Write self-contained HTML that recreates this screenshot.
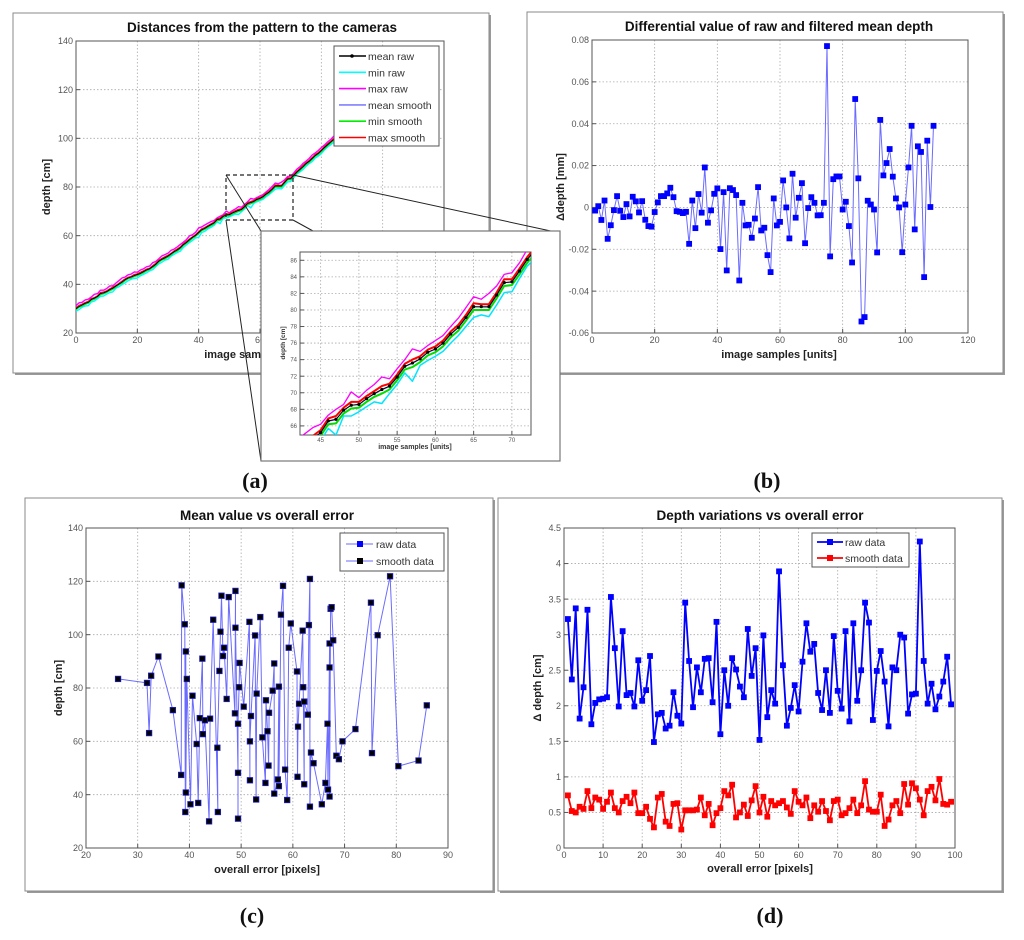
<!DOCTYPE html>
<html><head><meta charset="utf-8">
<style>
html,body{margin:0;padding:0;background:#fff;}
svg{display:block;font-family:"Liberation Sans",sans-serif;}
</style></head>
<body>
<svg id="chart" width="1024" height="940" viewBox="0 0 1024 940" xmlns="http://www.w3.org/2000/svg">
<defs>
<clipPath id="clipA"><rect x="76" y="41" width="368" height="292"/></clipPath>
<clipPath id="clipI"><rect x="300" y="252" width="231" height="183"/></clipPath>
</defs>
</svg>
<script>
// ---------- Panel (a) data ----------
const aMeanRaw = [30.0,30.9,31.5,32.2,32.6,33.8,34.3,35.0,36.2,36.5,37.0,37.8,38.4,39.3,40.1,40.9,41.9,42.6,43.0,43.6,44.0,
44.5,45.2,45.9,46.4,47.3,48.2,49.5,50.3,50.9,51.6,52.5,53.4,54.1,55.0,56.3,57.2,58.3,59.3,60.1,61.3,62.4,63.0,63.8,64.5,
65.2,66.6,66.8,67.9,68.5,68.6,69.3,69.9,70.4,70.8,71.9,73.2,73.6,74.1,74.9,75.3,76.0,77.1,77.9,79.1,80.4,80.4,80.4,81.8,83.3,83.4,84.7,86.1,
87.2,88.3,89.6,90.5,91.7,92.9,93.8,94.9,96.2,97.3,98.4,99.5,100.6,101.5,102.7,103.8,104.9,106.0,107.1,108.3,109.2,110.4,111.5,112.6,113.7,114.8,115.9,117.0,118.1,119.2,120.3,121.4,122.5,123.6,124.7,125.8,126.9];
const aRawMaxOff = [1.2,1.5,1.1,1.4,1.3,1.0,1.6,1.2,1.4,1.1,1.3,1.5,1.0,1.2,1.4,1.7,1.1,1.3,1.2,1.5,1.0,1.4,1.2,1.3,1.1,1.6,1.2,1.0,1.4,1.3,1.2,1.5,1.1,1.3,1.4,1.0,1.2,1.6,1.1,1.3,1.9,1.2,1.4,1.3,1.3,
1.0,0.7,1.2,0.7,1.6,0.8,1.0,1.1,1.5,0.9,1.0,0.8,1.7,0.9,0.8,1.0,0.9,0.9,1.1,1.2,1.2,0.9,1.6,1.1,1.0,1.1,1.0,1.2,
1.1,1.3,1.0,1.2,1.4,1.1,1.2,1.3,1.0,1.2,1.1,1.3,1.2,1.0,1.4,1.1,1.2,1.3,1.1,1.2,1.0,1.3,1.2,1.1,1.4,1.2,1.0,1.3,1.1,1.2,1.2,1.1,1.3,1.0,1.2,1.1,1.2];
const aRawMinOff = [1.0,1.3,0.9,1.1,1.4,1.0,1.2,0.9,1.1,1.3,1.0,1.2,1.5,0.9,1.1,1.0,1.3,1.1,0.9,1.2,1.4,1.0,1.1,1.2,0.9,1.3,1.0,1.1,1.2,1.0,1.3,0.9,1.1,1.0,1.4,1.2,1.0,1.1,1.3,1.0,2.0,1.1,1.2,1.0,1.1,
1.0,0.9,1.9,0.7,1.3,0.9,1.0,1.0,1.7,0.9,0.9,0.8,2.2,0.8,1.0,0.9,1.0,1.1,1.0,1.1,1.3,1.0,1.2,1.2,1.2,1.2,0.9,0.8,
1.0,1.2,1.1,0.9,1.3,1.0,1.1,1.2,1.0,0.9,1.1,1.2,1.0,1.1,1.3,1.0,0.9,1.1,1.2,1.0,1.1,1.0,1.2,0.9,1.1,1.3,1.0,1.1,1.2,1.0,1.1,0.9,1.0,1.2,1.1,1.0,1.1];
const aSmoothMaxOff = [0.3,0.4,0.3,0.3,0.4,0.3,0.2,0.3,0.4,0.3,0.3,0.3,0.4,0.2,0.3,0.4,0.3,0.3,0.2,0.4,0.3,0.4,0.3,0.3,0.2,0.3,0.4,0.3,0.3,0.4,
0.3,0.2,0.3,0.4,0.3,0.3,0.4,0.3,0.2,0.3,0.3,0.4,0.3,0.3,0.3,0.3,0.3,0.4,0.3,0.4,0.3,0.3,0.3,0.4,0.3,0.3,0.3,0.4,0.3,0.3,
0.3,0.3,0.3,0.3,0.3,0.4,0.3,0.3,0.3,0.4,0.3,0.3,0.3,0.3,0.4,0.3,0.3,0.3,0.4,0.3,0.3,0.3,0.4,0.3,0.3,0.3,0.3,0.4,0.3,0.3,
0.3,0.4,0.3,0.3,0.3,0.4,0.3,0.3,0.3,0.3,0.4,0.3,0.3,0.3,0.4,0.3,0.3,0.3,0.3,0.3];
const aSmoothMinOff = [0.4,0.3,0.4,0.4,0.3,0.4,0.4,0.3,0.4,0.4,0.3,0.4,0.4,0.4,0.3,0.4,0.4,0.3,0.4,0.4,0.4,0.3,0.4,0.4,0.3,0.4,0.4,0.4,0.3,0.4,
0.4,0.4,0.3,0.4,0.4,0.4,0.3,0.4,0.4,0.4,0.4,0.3,0.4,0.4,0.4,0.4,0.4,0.5,0.4,0.4,0.4,0.4,0.4,0.5,0.4,0.4,0.4,0.5,0.4,0.4,
0.4,0.4,0.4,0.4,0.4,0.4,0.4,0.4,0.4,0.4,0.4,0.4,0.4,0.4,0.3,0.4,0.4,0.4,0.3,0.4,0.4,0.4,0.3,0.4,0.4,0.4,0.4,0.3,0.4,0.4,
0.4,0.3,0.4,0.4,0.4,0.3,0.4,0.4,0.4,0.4,0.3,0.4,0.4,0.4,0.3,0.4,0.4,0.4,0.4,0.4];
const aXTicks = [0,20,40,60,80,100,120];
const aYTicks = [20,40,60,80,100,120,140];
const insetXTicks = [45,50,55,60,65,70];
const insetYTicks = [66,68,70,72,74,76,78,80,82,84,86];

// ---------- Panel (b) data ----------
const bDiff = [-0.0015,0.0006,-0.006,0.0033,-0.015,-0.0085,-0.0013,0.0054,-0.0016,-0.0046,
0.0016,-0.0043,0.0051,0.0029,-0.0024,0.003,-0.0059,-0.0089,-0.0092,-0.0022,
0.0024,0.0054,0.0054,0.0067,0.0094,0.0049,-0.0018,-0.0021,-0.0027,-0.0021,
-0.0174,0.0033,-0.0099,0.0064,-0.0025,0.0191,-0.0073,-0.0014,0.0065,0.0091,
-0.0199,0.0073,-0.0301,0.0092,0.0083,0.0059,-0.0349,0.0022,-0.0086,-0.0083,
-0.0145,-0.0053,0.0097,-0.011,-0.0097,-0.0228,-0.0309,0.0043,-0.0086,-0.0069,
0.0129,0.0,-0.0148,0.0161,-0.0049,0.0046,0.0116,-0.0171,-0.0003,0.0049,
0.0022,-0.0038,-0.0037,0.0022,0.0771,-0.0234,0.0135,0.0148,0.0148,-0.001,
0.0027,-0.0089,-0.0263,0.0518,0.0139,-0.0545,-0.0524,0.0032,0.0014,-0.001,
-0.0215,0.0418,0.0153,0.0212,0.0279,0.0147,0.0043,0.0,-0.0214,0.0014,
0.0191,0.039,-0.0105,0.0292,0.0265,-0.0333,0.0319,0.0002,0.039];
const bXTicks = [0,20,40,60,80,100,120];
const bYTicks = [-0.06,-0.04,-0.02,0,0.02,0.04,0.06,0.08];
const bYLabels = ["-0.06","-0.04","-0.02","0","0.02","0.04","0.06","0.08"];

// ---------- Panel (c) data ----------
const cError = [26.2,31.8,32.2,32.6,34.0,36.8,38.4,38.5,39.1,39.2,39.3,39.3,39.5,40.2,40.6,41.4,41.7,42.0,42.5,42.6,
43.0,43.8,44.0,44.6,45.5,45.4,45.8,46.0,46.2,46.5,46.7,47.2,47.6,48.8,48.9,48.9,49.4,49.4,49.4,49.6,
49.7,50.5,51.6,51.7,51.7,51.9,52.7,52.9,53.0,53.7,54.1,54.7,54.8,55.1,55.3,55.4,56.1,56.4,56.4,57.1,
57.3,57.3,57.7,58.1,58.5,58.9,59.2,59.6,60.8,60.9,61.0,61.2,61.9,62.0,62.2,62.2,62.9,63.1,63.3,63.3,
63.5,64.0,65.6,66.3,66.7,66.8,67.1,67.1,67.1,67.3,67.5,67.8,68.4,68.9,69.6,72.1,75.1,75.3,76.4,78.8,
80.4,84.3,85.9];
const cDepth = [83.4,81.9,63.1,84.6,91.8,71.7,47.4,118.5,103.9,33.5,93.7,40.8,83.4,36.4,77.1,59.0,36.9,68.7,91.0,62.7,
67.9,30.0,68.5,105.6,33.5,57.6,86.4,101.1,114.6,92.0,95.1,75.9,114.1,70.5,116.4,102.6,48.2,31.0,66.6,80.3,
89.4,73.0,104.8,45.4,60.0,69.5,99.7,38.2,77.9,106.6,61.5,44.4,75.4,63.8,50.9,70.7,79.0,89.2,40.4,45.7,
80.5,43.2,107.5,118.3,49.4,38.0,95.1,104.2,86.2,46.7,65.5,74.1,101.5,80.3,43.9,74.9,70.0,103.6,120.9,35.5,
55.8,51.8,36.4,44.4,66.6,41.9,96.7,87.7,39.3,109.7,110.3,97.9,54.6,53.3,60.0,64.6,112.0,55.6,99.8,121.9,
50.7,52.8,73.5];
const cXTicks = [20,30,40,50,60,70,80,90];
const cYTicks = [20,40,60,80,100,120,140];

// ---------- Panel (d) data ----------
const dRaw = [3.22,2.37,3.37,1.82,2.26,3.35,1.74,2.04,2.09,2.1,2.12,3.53,2.81,1.99,3.05,2.15,2.18,1.99,2.64,2.07,
2.22,2.7,1.49,1.88,1.9,1.68,1.72,2.19,1.86,1.75,3.45,2.63,1.98,2.54,2.19,2.66,2.67,2.05,3.18,1.6,
2.5,2.0,2.67,2.51,2.27,2.12,3.08,2.42,2.81,1.52,2.99,1.84,2.22,2.03,3.89,2.57,1.72,1.97,2.29,1.92,
2.62,3.16,2.76,2.87,2.18,1.94,2.5,1.9,2.98,2.21,1.96,3.05,1.78,3.16,2.07,2.5,3.45,3.17,1.8,2.49,
2.77,2.34,1.71,2.54,2.5,3.0,2.96,1.89,2.16,2.17,4.31,2.63,2.03,2.31,1.95,2.13,2.34,2.69,2.02];
const dSmooth = [0.74,0.52,0.5,0.58,0.55,0.8,0.56,0.71,0.68,0.55,0.65,0.78,0.56,0.5,0.66,0.72,0.63,0.78,0.49,0.49,
0.58,0.41,0.29,0.71,0.76,0.37,0.31,0.62,0.63,0.26,0.53,0.53,0.53,0.54,0.71,0.46,0.62,0.32,0.49,0.56,
0.8,0.74,0.89,0.43,0.5,0.61,0.45,0.67,0.87,0.5,0.72,0.44,0.66,0.6,0.63,0.66,0.57,0.48,0.8,0.65,
0.6,0.71,0.42,0.6,0.51,0.66,0.52,0.39,0.66,0.68,0.46,0.49,0.56,0.68,0.49,0.6,0.94,0.54,0.51,0.51,
0.75,0.31,0.4,0.6,0.66,0.49,0.9,0.61,0.91,0.84,0.68,0.46,0.8,0.86,0.67,0.97,0.62,0.61,0.65];
const dXTicks = [0,10,20,30,40,50,60,70,80,90,100];
const dYTicks = [0,0.5,1,1.5,2,2.5,3,3.5,4,4.5];
const dYLabels = ["0","0.5","1","1.5","2","2.5","3","3.5","4","4.5"];

// ---------- helpers ----------
const NS = 'http://www.w3.org/2000/svg';
const svg = document.getElementById('chart');
function mk(tag, attrs, parent, name) {
  const e = document.createElementNS(NS, tag);
  for (const k in attrs) e.setAttribute(k, attrs[k]);
  
  
  (parent || svg).appendChild(e);
  return e;
}
function txt(s, attrs, parent, name) { const t = mk('text', attrs, parent, name); t.textContent = s; return t; }
function scale(d0, d1, p0, p1) { return v => p0 + (v - d0) / (d1 - d0) * (p1 - p0); }

function frame(x, y, w, h, name) {
  mk('rect', {x: x + 2, y: y + 2, width: w, height: h, fill: '#9a9a9a'}, svg, name + '-shadow');
  mk('rect', {x: x, y: y, width: w, height: h, fill: '#fff', stroke: '#8a8a8a', 'stroke-width': 1}, svg, name);
}

function axes(g, P, sx, sy, xt, yt, xl, yl, fs, grid) {
  const gg = mk('g', {}, g, 'gridlines');
  xt.forEach(v => { const x = sx(v);
    mk('line', {x1: x, x2: x, y1: P.y0, y2: P.y1, stroke: '#aaa', 'stroke-width': 0.8, 'stroke-dasharray': '1.5,2'}, gg, 'x-gridline'); });
  yt.forEach(v => { const y = sy(v);
    mk('line', {x1: P.x0, x2: P.x1, y1: y, y2: y, stroke: '#aaa', 'stroke-width': 0.8, 'stroke-dasharray': '1.5,2'}, gg, 'y-gridline'); });
  mk('rect', {x: P.x0, y: P.y0, width: P.x1 - P.x0, height: P.y1 - P.y0, fill: 'none', stroke: '#555', 'stroke-width': 1}, g, 'plot-area-border');
  const xa = mk('g', {}, g, 'x-axis');
  xt.forEach((v, i) => { const x = sx(v);
    mk('line', {x1: x, x2: x, y1: P.y1, y2: P.y1 - 4, stroke: '#555'}, xa, 'x-tick');
    txt(xl ? xl[i] : String(v), {x: x, y: P.y1 + fs + 1, 'font-size': fs, 'text-anchor': 'middle', fill: '#555'}, xa, 'x-tick-label'); });
  const ya = mk('g', {}, g, 'y-axis');
  yt.forEach((v, i) => { const y = sy(v);
    mk('line', {x1: P.x0, x2: P.x0 + 4, y1: y, y2: y, stroke: '#555'}, ya, 'y-tick');
    txt(yl ? yl[i] : String(v), {x: P.x0 - 3, y: y + fs * 0.35, 'font-size': fs, 'text-anchor': 'end', fill: '#555'}, ya, 'y-tick-label'); });
}
function poly(g, xs, ys, sx, sy, color, w, name, clip) {
  const pts = xs.map((x, i) => sx(x).toFixed(1) + ',' + sy(ys[i]).toFixed(1)).join(' ');
  const a = {points: pts, fill: 'none', stroke: color, 'stroke-width': w, 'stroke-linejoin': 'round'};
  if (clip) a['clip-path'] = clip;
  return mk('polyline', a, g, name);
}
function squares(g, xs, ys, sx, sy, fill, stroke, size, name) {
  xs.forEach((x, i) => {
    mk('rect', {x: sx(x) - size / 2, y: sy(ys[i]) - size / 2, width: size, height: size, fill: fill, stroke: stroke, 'stroke-width': 0.8}, g, name);
  });
}

// ---------- Frames ----------
frame(13, 13, 476, 360, 'panel-a-frame');
frame(527, 12, 476, 361, 'panel-b-frame');
frame(25, 498, 468, 393, 'panel-c-frame');
frame(498, 498, 504, 393, 'panel-d-frame');

// ---------- Panel (b) ----------
(function () {
  const g = mk('g', {}, svg, 'panel-b');
  const P = {x0: 592, x1: 968, y0: 40, y1: 333};
  const sx = scale(0, 120, P.x0, P.x1), sy = scale(-0.06, 0.08, P.y1, P.y0);
  axes(g, P, sx, sy, bXTicks, bYTicks, null, bYLabels, 9);
  const xs = bDiff.map((v, i) => i + 1);
  poly(g, xs, bDiff, sx, sy, '#6b6bff', 1, 'diff-line');
  squares(g, xs, bDiff, sx, sy, '#0000ff', '#0000ff', 5, 'diff-point');
  txt('Differential value of raw and filtered mean depth', {x: 779, y: 31, 'font-size': 13.5, 'font-weight': 'bold', 'text-anchor': 'middle', fill: '#111'}, g, 'chart-title');
  txt('image samples [units]', {x: 779, y: 358, 'font-size': 11, 'font-weight': 'bold', 'text-anchor': 'middle', fill: '#222'}, g, 'x-axis-title');
  txt('\u0394depth [mm]', {x: 0, y: 0, transform: 'translate(564,187) rotate(-90)', 'font-size': 11, 'font-weight': 'bold', 'text-anchor': 'middle', fill: '#222'}, g, 'y-axis-title');
})();

// ---------- Panel (a) ----------
(function () {
  const g = mk('g', {}, svg, 'panel-a');
  const P = {x0: 76, x1: 444, y0: 41, y1: 333};
  const sx = scale(0, 120, P.x0, P.x1), sy = scale(20, 140, P.y1, P.y0);
  axes(g, P, sx, sy, aXTicks, aYTicks, null, null, 9);
  const xs = aMeanRaw.map((v, i) => i);
  const minRaw = aMeanRaw.map((v, i) => v - aRawMinOff[i]);
  const maxRaw = aMeanRaw.map((v, i) => v + aRawMaxOff[i]);
  const minSm = aMeanRaw.map((v, i) => v - aSmoothMinOff[i]);
  const maxSm = aMeanRaw.map((v, i) => v + aSmoothMaxOff[i]);
  const meanSm = minSm.map((v, i) => (v + maxSm[i]) / 2);
  poly(g, xs, minRaw, sx, sy, '#00ffff', 1.4, 'min-raw-line', 'url(#clipA)');
  poly(g, xs, maxRaw, sx, sy, '#ff00ff', 1.4, 'max-raw-line', 'url(#clipA)');
  poly(g, xs, minSm, sx, sy, '#00ee00', 1.4, 'min-smooth-line', 'url(#clipA)');
  poly(g, xs, maxSm, sx, sy, '#ff0000', 1.4, 'max-smooth-line', 'url(#clipA)');
  poly(g, xs, meanSm, sx, sy, '#8080ff', 1, 'mean-smooth-line', 'url(#clipA)');
  poly(g, xs, aMeanRaw, sx, sy, '#000', 0.9, 'mean-raw-line', 'url(#clipA)');
  // legend
  const lg = mk('g', {}, g, 'legend');
  mk('rect', {x: 334, y: 46, width: 105, height: 100, fill: '#fff', stroke: '#555'}, lg, 'legend-box');
  const names = ['mean raw', 'min raw', 'max raw', 'mean smooth', 'min smooth', 'max smooth'];
  const cols = ['#000', '#00ffff', '#ff00ff', '#8080ff', '#00ee00', '#ff0000'];
  names.forEach((n, i) => {
    const y = 56 + i * 16.3;
    mk('line', {x1: 339, x2: 366, y1: y, y2: y, stroke: cols[i], 'stroke-width': 1.6}, lg, 'legend-swatch');
    if (i === 0) mk('circle', {cx: 352, cy: y, r: 1.8, fill: '#000'}, lg, 'legend-marker');
    txt(n, {x: 368, y: y + 4, 'font-size': 10.5, fill: '#333'}, lg, 'legend-entry');
  });
  txt('Distances from the pattern to the cameras', {x: 262, y: 32, 'font-size': 13.5, 'font-weight': 'bold', 'text-anchor': 'middle', fill: '#111'}, g, 'chart-title');
  txt('image samples [units]', {x: 262, y: 358, 'font-size': 11, 'font-weight': 'bold', 'text-anchor': 'middle', fill: '#222'}, g, 'x-axis-title');
  txt('depth [cm]', {x: 0, y: 0, transform: 'translate(50,187) rotate(-90)', 'font-size': 11, 'font-weight': 'bold', 'text-anchor': 'middle', fill: '#222'}, g, 'y-axis-title');
  // zoom rectangle
  mk('rect', {x: 226, y: 175, width: 67, height: 45, fill: 'none', stroke: '#222', 'stroke-width': 1.2, 'stroke-dasharray': '4,3'}, g, 'zoom-region');
  mk('line', {x1: 226, y1: 175, x2: 261, y2: 231, stroke: '#222', 'stroke-width': 1}, g, 'zoom-connector');
  mk('line', {x1: 226, y1: 220, x2: 261, y2: 461, stroke: '#222', 'stroke-width': 1}, g, 'zoom-connector');
  mk('line', {x1: 293, y1: 175, x2: 560, y2: 233, stroke: '#222', 'stroke-width': 1}, g, 'zoom-connector');
  mk('line', {x1: 293, y1: 220, x2: 313, y2: 231, stroke: '#222', 'stroke-width': 1}, g, 'zoom-connector');
  // inset
  const ig = mk('g', {}, svg, 'zoom-inset');
  mk('rect', {x: 261, y: 231, width: 299, height: 230, fill: '#fff', stroke: '#777', 'stroke-width': 1.2}, ig, 'inset-frame');
  const Q = {x0: 300, x1: 531, y0: 252, y1: 435};
  const ix = scale(42.3, 72.5, Q.x0, Q.x1), iy = scale(64.9, 87, Q.y1, Q.y0);
  axes(ig, Q, ix, iy, insetXTicks, insetYTicks, null, null, 6);
  poly(ig, xs, minRaw, ix, iy, '#00e5ff', 1.5, 'inset-min-raw', 'url(#clipI)');
  poly(ig, xs, maxRaw, ix, iy, '#ff00ff', 1.3, 'inset-max-raw', 'url(#clipI)');
  poly(ig, xs, minSm, ix, iy, '#00dd00', 2, 'inset-min-smooth', 'url(#clipI)');
  poly(ig, xs, maxSm, ix, iy, '#ff0000', 2, 'inset-max-smooth', 'url(#clipI)');
  poly(ig, xs, meanSm, ix, iy, '#6060ff', 1, 'inset-mean-smooth', 'url(#clipI)');
  poly(ig, xs, aMeanRaw, ix, iy, '#000', 1, 'inset-mean-raw', 'url(#clipI)');
  const mg = mk('g', {'clip-path': 'url(#clipI)'}, ig, 'inset-markers');
  xs.forEach((x, i) => {
    mk('circle', {cx: ix(x), cy: iy(aMeanRaw[i]), r: 1.6, fill: '#000'}, mg, 'inset-mean-marker');
  });
  txt('image samples [units]', {x: 415, y: 449, 'font-size': 7, 'font-weight': 'bold', 'text-anchor': 'middle', fill: '#333'}, ig, 'inset-x-axis-title');
  txt('depth [cm]', {x: 0, y: 0, transform: 'translate(285,343) rotate(-90)', 'font-size': 6.5, 'font-weight': 'bold', 'text-anchor': 'middle', fill: '#333'}, ig, 'inset-y-axis-title');
})();

// ---------- Panel (c) ----------
(function () {
  const g = mk('g', {}, svg, 'panel-c');
  const P = {x0: 86, x1: 448, y0: 528, y1: 848};
  const sx = scale(20, 90, P.x0, P.x1), sy = scale(20, 140, P.y1, P.y0);
  axes(g, P, sx, sy, cXTicks, cYTicks, null, null, 9);
  poly(g, cError, cDepth, sx, sy, '#6b6bff', 1, 'smooth-data-line');
  squares(g, cError, cDepth, sx, sy, '#000', '#2020c0', 5.5, 'smooth-data-point');
  const lg = mk('g', {}, g, 'legend');
  mk('rect', {x: 340, y: 533, width: 104, height: 38, fill: '#fff', stroke: '#555'}, lg, 'legend-box');
  mk('line', {x1: 346, x2: 373, y1: 544, y2: 544, stroke: '#6b6bff'}, lg, 'legend-swatch');
  mk('rect', {x: 357, y: 541, width: 6, height: 6, fill: '#0000ff'}, lg, 'legend-marker');
  txt('raw data', {x: 376, y: 548, 'font-size': 10.5, fill: '#333'}, lg, 'legend-entry');
  mk('line', {x1: 346, x2: 373, y1: 561, y2: 561, stroke: '#6b6bff'}, lg, 'legend-swatch');
  mk('rect', {x: 357, y: 558, width: 6, height: 6, fill: '#000'}, lg, 'legend-marker');
  txt('smooth data', {x: 376, y: 565, 'font-size': 10.5, fill: '#333'}, lg, 'legend-entry');
  txt('Mean value vs overall error', {x: 267, y: 520, 'font-size': 13.5, 'font-weight': 'bold', 'text-anchor': 'middle', fill: '#111'}, g, 'chart-title');
  txt('overall error [pixels]', {x: 267, y: 873, 'font-size': 11, 'font-weight': 'bold', 'text-anchor': 'middle', fill: '#222'}, g, 'x-axis-title');
  txt('depth [cm]', {x: 0, y: 0, transform: 'translate(62,688) rotate(-90)', 'font-size': 11, 'font-weight': 'bold', 'text-anchor': 'middle', fill: '#222'}, g, 'y-axis-title');
})();

// ---------- Panel (d) ----------
(function () {
  const g = mk('g', {}, svg, 'panel-d');
  const P = {x0: 564, x1: 955, y0: 528, y1: 848};
  const sx = scale(0, 100, P.x0, P.x1), sy = scale(0, 4.5, P.y1, P.y0);
  axes(g, P, sx, sy, dXTicks, dYTicks, null, dYLabels, 9);
  const xs = dRaw.map((v, i) => i + 1);
  poly(g, xs, dRaw, sx, sy, '#0000ff', 1.8, 'raw-data-line');
  squares(g, xs, dRaw, sx, sy, '#0000ff', '#0000ff', 5, 'raw-data-point');
  const xs2 = dSmooth.map((v, i) => i + 1);
  poly(g, xs2, dSmooth, sx, sy, '#ff0000', 1.8, 'smooth-data-line');
  squares(g, xs2, dSmooth, sx, sy, '#ff0000', '#ff0000', 5, 'smooth-data-point');
  const lg = mk('g', {}, g, 'legend');
  mk('rect', {x: 812, y: 533, width: 97, height: 34, fill: '#fff', stroke: '#555'}, lg, 'legend-box');
  mk('line', {x1: 817, x2: 843, y1: 542, y2: 542, stroke: '#0000ff', 'stroke-width': 1.8}, lg, 'legend-swatch');
  mk('rect', {x: 827, y: 539, width: 6, height: 6, fill: '#0000ff'}, lg, 'legend-marker');
  txt('raw data', {x: 845, y: 546, 'font-size': 10.5, fill: '#333'}, lg, 'legend-entry');
  mk('line', {x1: 817, x2: 843, y1: 558, y2: 558, stroke: '#ff0000', 'stroke-width': 1.8}, lg, 'legend-swatch');
  mk('rect', {x: 827, y: 555, width: 6, height: 6, fill: '#ff0000'}, lg, 'legend-marker');
  txt('smooth data', {x: 845, y: 562, 'font-size': 10.5, fill: '#333'}, lg, 'legend-entry');
  txt('Depth variations vs overall error', {x: 760, y: 520, 'font-size': 13.5, 'font-weight': 'bold', 'text-anchor': 'middle', fill: '#111'}, g, 'chart-title');
  txt('overall error [pixels]', {x: 760, y: 872, 'font-size': 11, 'font-weight': 'bold', 'text-anchor': 'middle', fill: '#222'}, g, 'x-axis-title');
  txt('\u0394 depth [cm]', {x: 0, y: 0, transform: 'translate(541,688) rotate(-90)', 'font-size': 11, 'font-weight': 'bold', 'text-anchor': 'middle', fill: '#222'}, g, 'y-axis-title');
})();

// ---------- Panel labels ----------
[['(a)', 255, 488, 'panel-label-a'], ['(b)', 767, 488, 'panel-label-b'], ['(c)', 252, 923, 'panel-label-c'], ['(d)', 770, 923, 'panel-label-d']].forEach(l => {
  const t = document.createElementNS(NS, 'text');
  t.setAttribute('x', l[1]); t.setAttribute('y', l[2]);
  t.setAttribute('text-anchor', 'middle');
  t.setAttribute('font-size', '22');
  t.setAttribute('font-weight', 'bold');
  t.setAttribute('font-family', '"Liberation Serif", serif');
  t.setAttribute('fill', '#111');
  
  
  t.textContent = l[0];
  svg.appendChild(t);
});
</script>
</body></html>
